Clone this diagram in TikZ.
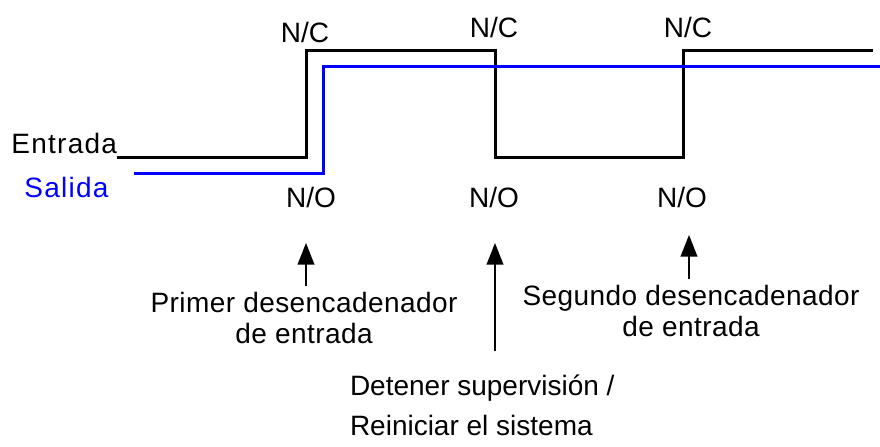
\documentclass[tikz,border=0pt]{standalone}
\usepackage{fontspec}
\setmainfont{Liberation Sans}
\newfontfamily\spacedfont{Liberation Sans}[LetterSpace=4.5]
\newfontfamily\trigfont{Liberation Sans}[LetterSpace=1.5]
\usepackage{tikz}
\usetikzlibrary{arrows.meta}
\definecolor{salida}{HTML}{0000FF}

\begin{document}
\begin{tikzpicture}[
  x=0.5pt,y=-0.5pt,
  every node/.style={font=\fontsize{14}{15.5}\selectfont,inner sep=0pt},
  sig/.style={line width=1.5pt},
  lbl/.style={anchor=base},
  side/.style={anchor=base west,font=\fontsize{14}{15.5}\spacedfont},
  note/.style={anchor=north,align=center,outer sep=3pt,font=\fontsize{14}{15.5}\trigfont},
  arr/.style={-{Triangle[length=10.8pt,width=8.3pt]},line width=1pt}
]
\useasboundingbox (0,0) rectangle (880,446);
\node[side] (ent) at (11,153) {Entrada};
\node[side,text=salida] (sal) at (24,197) {Salida};
\node[lbl] (nc1) at (305,42) {N/C};
\node[lbl] (nc2) at (494,37) {N/C};
\node[lbl] (nc3) at (688,37) {N/C};
\node[lbl] (no1) at (311,207) {N/O};
\node[lbl] (no2) at (494,207) {N/O};
\node[lbl] (no3) at (682,207) {N/O};
\draw[sig] (117,157) -- (306,157) -- (306,50) -- (495,50) -- (495,157) -- (683,157) -- (683,50) -- (873,50);
\draw[sig,salida] (134,173) -- (323,173) -- (323,66) -- (880,66);
\node[note] (trig1) at (304,286) {Primer desencadenador\\de entrada};
\node[note] (trig2) at (691,279) {Segundo desencadenador\\de entrada};
\node[note,anchor=north west,align=left,font=\fontsize{14}{20}\selectfont] (stop) at (344,369) {Detener supervisión /\\Reiniciar el sistema};
\coordinate (tip1) at (306,243);
\coordinate (tip2) at (495,243);
\coordinate (tip3) at (689,235);
\draw[arr] (trig1.north -| tip1) -- (tip1);
\draw[arr,shorten <=9pt] (stop.north -| tip2) -- (tip2);
\draw[arr] (trig2.north -| tip3) -- (tip3);
\end{tikzpicture}
\end{document}
